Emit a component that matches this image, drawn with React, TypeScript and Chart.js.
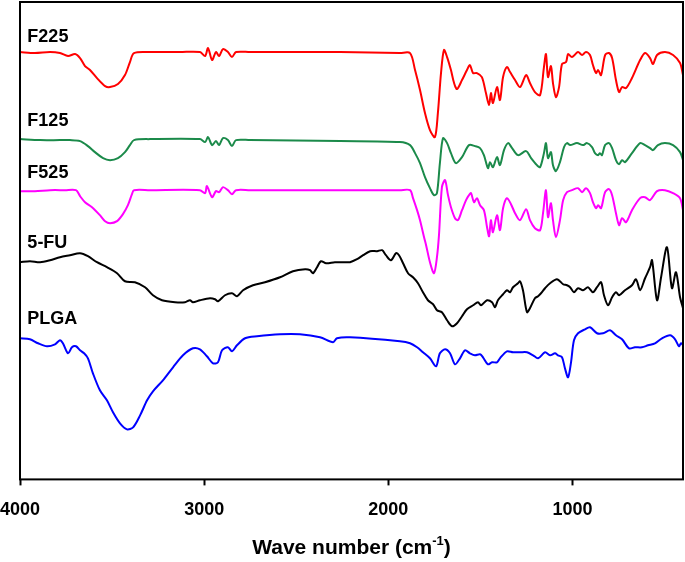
import React, { useEffect, useRef } from 'react';
import { Chart, registerables } from 'chart.js';

Chart.register(...registerables);

// Wave numbers (cm-1) and transmittance (arbitrary, offset units)
const f225Wave = [4000, 3919, 3837, 3783, 3739, 3701, 3674, 3647, 3620, 3582, 3538, 3511, 3468, 3430, 3403, 3381, 3294, 3131, 3023, 2995, 2979, 2957, 2936, 2919, 2898, 2871, 2849, 2827, 2751, 2262, 1937, 1882, 1855, 1828, 1801, 1774, 1747, 1731, 1714, 1698, 1681, 1660, 1643, 1627, 1600, 1573, 1557, 1540, 1519, 1492, 1470, 1453, 1443, 1432, 1410, 1394, 1377, 1356, 1339, 1312, 1285, 1252, 1231, 1204, 1176, 1155, 1144, 1133, 1117, 1106, 1090, 1073, 1057, 1035, 1024, 1003, 970, 948, 927, 905, 889, 872, 861, 845, 823, 802, 785, 764, 747, 731, 709, 677, 633, 606, 579, 563, 541, 498, 454, 416, 400];
const f225Value = [427, 426, 427, 426, 423, 425, 421, 413, 409, 401, 393, 392, 395, 404, 417, 426, 427, 427, 427, 423, 431, 419, 427, 423, 430, 427, 422, 427, 427, 427, 426, 426, 409, 389, 366, 349, 342, 366, 406, 429, 422, 409, 396, 390, 399, 409, 414, 406, 406, 402, 386, 374, 386, 376, 392, 379, 402, 412, 407, 399, 392, 404, 396, 387, 384, 412, 425, 402, 413, 396, 382, 392, 415, 417, 425, 422, 427, 424, 427, 424, 414, 406, 409, 404, 424, 426, 421, 399, 387, 392, 391, 401, 419, 426, 421, 415, 424, 427, 424, 416, 404];

const f125Wave = [4000, 3891, 3783, 3729, 3674, 3631, 3593, 3549, 3511, 3468, 3430, 3403, 3381, 3294, 3023, 2995, 2979, 2957, 2936, 2919, 2898, 2871, 2849, 2827, 2751, 2262, 1937, 1882, 1855, 1828, 1801, 1774, 1752, 1736, 1720, 1703, 1681, 1660, 1633, 1600, 1562, 1530, 1502, 1481, 1459, 1448, 1432, 1410, 1394, 1372, 1350, 1328, 1296, 1252, 1225, 1193, 1176, 1155, 1144, 1133, 1117, 1106, 1090, 1068, 1046, 1030, 1013, 976, 943, 921, 894, 878, 861, 851, 840, 823, 802, 785, 764, 747, 731, 715, 677, 633, 606, 579, 563, 536, 498, 454, 416, 400];
const f125Value = [340, 339, 339, 339, 338, 333, 327, 321, 319, 321, 327, 334, 339, 340, 340, 337, 342, 334, 338, 334, 341, 339, 333, 339, 339, 338, 337, 334, 326, 316, 302, 291, 284, 286, 316, 341, 336, 326, 316, 322, 334, 333, 331, 324, 311, 317, 312, 322, 314, 329, 336, 331, 324, 328, 321, 314, 312, 326, 336, 321, 327, 314, 308, 317, 332, 336, 334, 336, 334, 336, 332, 326, 324, 326, 324, 334, 336, 331, 319, 315, 319, 317, 326, 336, 334, 331, 329, 334, 336, 334, 327, 319];

const f525Wave = [4000, 3919, 3837, 3756, 3696, 3674, 3647, 3609, 3566, 3538, 3511, 3473, 3441, 3414, 3392, 3381, 3294, 3023, 2995, 2985, 2957, 2936, 2919, 2898, 2871, 2849, 2827, 2751, 1937, 1882, 1866, 1844, 1828, 1806, 1795, 1774, 1752, 1736, 1725, 1709, 1692, 1676, 1660, 1638, 1622, 1600, 1578, 1562, 1551, 1535, 1519, 1502, 1481, 1464, 1453, 1443, 1432, 1410, 1394, 1377, 1356, 1334, 1312, 1285, 1252, 1231, 1204, 1176, 1160, 1144, 1133, 1117, 1106, 1090, 1068, 1051, 1030, 1003, 970, 948, 927, 905, 889, 872, 861, 845, 823, 802, 785, 764, 747, 731, 709, 677, 633, 606, 579, 541, 498, 454, 416, 400];
const f525Value = [288, 288, 289, 289, 289, 283, 277, 272, 264, 258, 256, 258, 265, 274, 285, 289, 289, 289, 286, 293, 282, 288, 287, 292, 289, 285, 289, 289, 289, 289, 281, 269, 259, 242, 234, 217, 206, 222, 244, 292, 299, 284, 272, 261, 259, 269, 279, 284, 286, 277, 281, 274, 269, 252, 243, 259, 247, 264, 249, 271, 281, 275, 266, 259, 270, 259, 251, 249, 266, 289, 262, 276, 259, 242, 259, 279, 287, 289, 291, 287, 291, 286, 277, 271, 274, 271, 287, 290, 284, 266, 254, 261, 257, 269, 281, 282, 279, 288, 289, 286, 281, 269];

const fuWave = [4000, 3946, 3891, 3837, 3783, 3729, 3674, 3631, 3582, 3528, 3473, 3430, 3376, 3321, 3278, 3229, 3158, 3104, 3077, 3061, 3023, 2968, 2941, 2925, 2887, 2849, 2822, 2789, 2735, 2670, 2588, 2518, 2452, 2425, 2409, 2387, 2366, 2338, 2290, 2235, 2208, 2170, 2137, 2099, 2061, 2034, 2013, 1986, 1958, 1942, 1920, 1893, 1866, 1839, 1812, 1785, 1757, 1736, 1709, 1681, 1654, 1627, 1600, 1573, 1540, 1513, 1497, 1464, 1437, 1421, 1405, 1377, 1356, 1339, 1323, 1296, 1285, 1269, 1247, 1231, 1204, 1187, 1171, 1149, 1122, 1084, 1051, 1030, 1013, 992, 970, 943, 916, 889, 867, 845, 829, 807, 785, 764, 747, 715, 677, 655, 633, 606, 579, 568, 541, 519, 487, 460, 438, 416, 400];
const fuValue = [217, 218, 217, 219, 222, 224, 226, 223, 217, 212, 206, 198, 197, 192, 184, 179, 177, 177, 179, 177, 179, 181, 180, 178, 184, 186, 183, 189, 194, 197, 202, 208, 210, 209, 206, 212, 218, 216, 217, 217, 217, 220, 224, 228, 228, 229, 224, 219, 226, 224, 216, 206, 202, 196, 187, 179, 175, 169, 167, 159, 153, 156, 163, 170, 174, 177, 174, 179, 177, 172, 179, 185, 189, 187, 192, 196, 198, 189, 167, 171, 181, 183, 186, 191, 196, 200, 195, 194, 192, 187, 191, 189, 192, 187, 192, 197, 184, 174, 182, 187, 184, 189, 194, 200, 189, 201, 212, 219, 179, 202, 232, 191, 207, 182, 171];

const plgaWave = [4000, 3946, 3902, 3853, 3810, 3783, 3767, 3739, 3718, 3696, 3674, 3652, 3631, 3604, 3566, 3528, 3495, 3457, 3419, 3386, 3348, 3310, 3278, 3224, 3169, 3115, 3061, 3023, 2985, 2952, 2925, 2903, 2871, 2849, 2822, 2778, 2713, 2588, 2480, 2371, 2300, 2279, 2208, 1937, 1882, 1844, 1812, 1774, 1741, 1720, 1692, 1665, 1638, 1611, 1584, 1557, 1530, 1502, 1486, 1459, 1437, 1410, 1394, 1356, 1323, 1285, 1247, 1214, 1187, 1149, 1122, 1095, 1079, 1057, 1041, 1024, 1008, 992, 970, 932, 905, 867, 834, 796, 764, 731, 693, 661, 623, 590, 552, 514, 470, 443, 422, 411, 400];
const plgaValue = [141, 140, 136, 133, 135, 139, 136, 126, 132, 133, 129, 126, 121, 106, 89, 79, 67, 56, 50, 52, 64, 79, 88, 99, 112, 124, 131, 130, 123, 116, 117, 129, 132, 128, 134, 141, 143, 145, 145, 142, 137, 141, 142, 138, 136, 132, 127, 121, 113, 126, 130, 126, 115, 121, 129, 126, 124, 125, 122, 115, 117, 117, 121, 128, 127, 127, 127, 124, 121, 127, 124, 126, 124, 122, 111, 102, 117, 139, 146, 150, 152, 146, 146, 149, 144, 140, 131, 132, 132, 134, 136, 141, 144, 140, 133, 136, 134];

const seriesNames = ['F225', 'F125', 'F525', '5-FU', 'PLGA'];
const seriesColors = ['#ff0000', '#1b8a4a', '#ff00ff', '#000000', '#0000ff'];
const seriesWaves = [f225Wave, f125Wave, f525Wave, fuWave, plgaWave];
const seriesValues = [f225Value, f125Value, f525Value, fuValue, plgaValue];
const xTicks = [4000, 3000, 2000, 1000];
const labelLevels = [442, 358, 306, 236, 160];
const labelWave = 3960;

const overlayPlugin = {
  id: 'overlay',
  afterDraw(chart: any) {
    const { ctx, chartArea: a, scales } = chart;
    ctx.save();
    ctx.strokeStyle = '#000';
    ctx.lineWidth = 2;
    ctx.strokeRect(a.left, a.top, a.right - a.left, a.bottom - a.top);
    ctx.fillStyle = '#000';
    ctx.font = 'bold 18px "Liberation Sans", Arial, sans-serif';
    ctx.textAlign = 'left';
    ctx.textBaseline = 'middle';
    seriesNames.forEach((name, i) => {
      ctx.fillText(name, scales.x.getPixelForValue(labelWave), scales.y.getPixelForValue(labelLevels[i]));
    });
    // axis title with superscript
    const main = 'Wave number (cm';
    const sup = '-1';
    const end = ')';
    const mainFont = 'bold 21px "Liberation Sans", Arial, sans-serif';
    const supFont = 'bold 13px "Liberation Sans", Arial, sans-serif';
    ctx.font = mainFont;
    const wMain = ctx.measureText(main).width;
    const wEnd = ctx.measureText(end).width;
    ctx.font = supFont;
    const wSup = ctx.measureText(sup).width;
    const total = wMain + wSup + wEnd;
    const cx = (a.left + a.right) / 2;
    const baseY = a.bottom + 75;
    let x = cx - total / 2;
    ctx.textBaseline = 'alphabetic';
    ctx.font = mainFont;
    ctx.fillText(main, x, baseY);
    x += wMain;
    ctx.font = supFont;
    ctx.fillText(sup, x, baseY - 9);
    x += wSup;
    ctx.font = mainFont;
    ctx.fillText(end, x, baseY);
    ctx.restore();
  },
};

export default function App() {
  const canvasRef = useRef<HTMLCanvasElement | null>(null);

  useEffect(() => {
    document.body.style.margin = '0';
    const canvas = canvasRef.current;
    if (!canvas) return;
    const datasets = seriesNames.map((name, i) => ({
      label: name,
      data: seriesWaves[i].map((w, j) => ({ x: w, y: seriesValues[i][j] })),
      borderColor: seriesColors[i],
      backgroundColor: seriesColors[i],
      borderWidth: 2,
      pointRadius: 0,
      tension: 0.3,
      fill: false,
    }));
    const chart = new Chart(canvas, {
      type: 'line',
      data: { datasets },
      options: {
        animation: false,
        responsive: true,
        maintainAspectRatio: false,
        layout: { padding: { left: 20, right: 2, top: 2, bottom: 27 } },
        plugins: { legend: { display: false }, tooltip: { enabled: false } },
        scales: {
          x: {
            type: 'linear',
            reverse: true,
            min: 400,
            max: 4000,
            afterBuildTicks: (scale: any) => {
              scale.ticks = xTicks.map((v) => ({ value: v }));
            },
            afterFit: (scale: any) => {
              scale.paddingLeft = 0;
              scale.paddingRight = 0;
            },
            grid: {
              drawOnChartArea: false,
              drawTicks: true,
              tickLength: 6,
              tickColor: '#000',
              tickWidth: 2,
            },
            border: { display: false },
            ticks: {
              color: '#000',
              padding: 14,
              maxRotation: 0,
              font: { family: '"Liberation Sans", Arial, sans-serif', size: 18, weight: 'bold' },
              callback: (v: any) => String(v),
            },
          },
          y: {
            type: 'linear',
            display: false,
            min: 0,
            max: 477,
          },
        },
      },
      plugins: [overlayPlugin],
    } as any);
    return () => chart.destroy();
  }, []);

  return (
    <div style={{ width: 685, height: 562, position: 'relative' }}>
      <canvas ref={canvasRef} />
    </div>
  );
}
